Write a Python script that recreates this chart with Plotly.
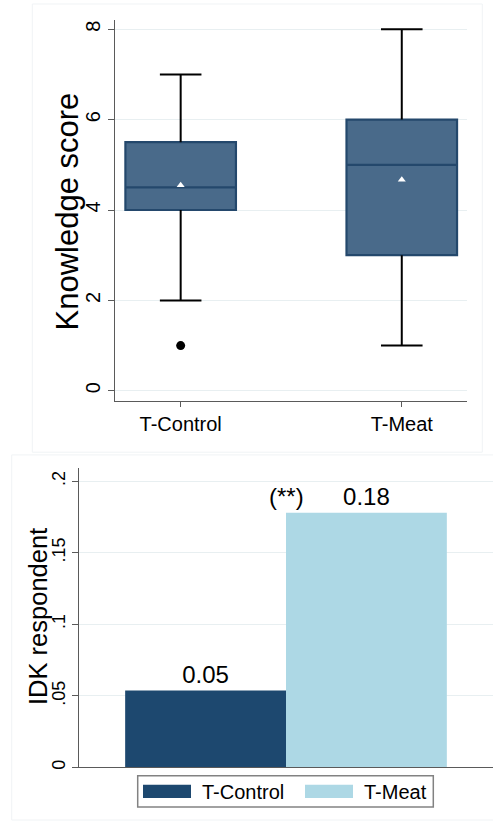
import plotly.graph_objects as go

# ---- data -------------------------------------------------------------
groups = ["T-Control", "T-Meat"]
q1 = [4.0, 3.0]
medians = [4.5, 5.0]
q3 = [5.5, 6.0]
lower_adj = [2.0, 1.0]
upper_adj = [7.0, 8.0]
means = [4.55, 4.67]
outliers = [[1.0], []]

idk_share = [0.0537, 0.178]
sig_label = "(**)"

score_ticks = [0, 2, 4, 6, 8]
share_ticks = [0, 0.05, 0.1, 0.15, 0.2]
share_ticktext = ["0", ".05", ".1", ".15", ".2"]

# ---- styling ----------------------------------------------------------
W, H = 493, 823
FONT = "Liberation Sans, Arial, sans-serif"
BOX_FILL = "rgb(73,106,138)"
BOX_LINE = "rgb(36,72,108)"
BAR_COLORS = ["rgb(29,72,111)", "rgb(173,216,229)"]
GRID = "rgb(232,239,241)"
AXIS = "rgb(90,90,90)"
FRAME = "rgb(240,243,245)"


def px_x(v):
    return v / W


def px_y(v):
    return 1 - v / H


fig = go.Figure()

# ---- top panel: box plot of knowledge score ---------------------------
pos = list(range(len(groups)))
box_width = 0.5
cap_half = 0.094

for i, g in enumerate(groups):
    fig.add_trace(go.Box(
        x=[pos[i]], q1=[q1[i]], median=[medians[i]], q3=[q3[i]],
        lowerfence=[q1[i]], upperfence=[q3[i]],
        width=box_width, fillcolor=BOX_FILL,
        line=dict(color=BOX_LINE, width=2.2), whiskerwidth=0,
        boxpoints=False, showlegend=False, hoverinfo="skip",
        xaxis="x", yaxis="y",
    ))

# whiskers with caps
wx, wy = [], []
for i in range(len(groups)):
    p = pos[i]
    wx += [p, p, None, p - cap_half, p + cap_half, None,
           p, p, None, p - cap_half, p + cap_half, None]
    wy += [q3[i], upper_adj[i], None, upper_adj[i], upper_adj[i], None,
           q1[i], lower_adj[i], None, lower_adj[i], lower_adj[i], None]
fig.add_trace(go.Scatter(x=wx, y=wy, mode="lines",
                         line=dict(color="black", width=2),
                         showlegend=False, hoverinfo="skip",
                         xaxis="x", yaxis="y"))

# outside values
ox, oy = [], []
for i, vals in enumerate(outliers):
    for v in vals:
        ox.append(pos[i])
        oy.append(v)
fig.add_trace(go.Scatter(x=ox, y=oy, mode="markers",
                         marker=dict(color="black", size=9),
                         showlegend=False, hoverinfo="skip",
                         xaxis="x", yaxis="y"))

# means
fig.add_trace(go.Scatter(x=pos, y=means, mode="markers",
                         marker=dict(symbol="triangle-up", color="white", size=7,
                                     line=dict(width=0)),
                         showlegend=False, hoverinfo="skip",
                         xaxis="x", yaxis="y"))

# ---- bottom panel: share of IDK respondents ---------------------------
for i, g in enumerate(groups):
    fig.add_trace(go.Bar(
        x=[0], y=[idk_share[i]], name=g,
        marker=dict(color=BAR_COLORS[i], line=dict(width=0)),
        texttemplate="%{y:.2f}", textposition="outside",
        textfont=dict(size=24, color="black", family=FONT),
        cliponaxis=False, showlegend=False,
        xaxis="x2", yaxis="y2",
    ))

fig.add_annotation(x=0, y=idk_share[1], xref="x2", yref="y2",
                   text=sig_label, showarrow=False, yanchor="bottom",
                   yshift=1, font=dict(size=24, color="black", family=FONT))

# axis titles
fig.add_annotation(x=px_x(67), y=px_y(212), xref="paper", yref="paper",
                   text="Knowledge score", textangle=-90, showarrow=False,
                   xanchor="center", yanchor="middle",
                   font=dict(size=31, color="black", family=FONT))
fig.add_annotation(x=px_x(38), y=px_y(618.5), xref="paper", yref="paper",
                   text="IDK respondent", textangle=-90, showarrow=False,
                   xanchor="center", yanchor="middle",
                   font=dict(size=25.5, color="black", family=FONT))

# legend drawn as swatches + labels
legend_box = dict(x0=137.7, x1=433.3, y0=777.7, y1=809)
swatch_x = [143, 305]
label_x = [200, 361.7]
shapes = [dict(type="rect", xref="paper", yref="paper",
               x0=px_x(legend_box["x0"]), x1=px_x(legend_box["x1"]),
               y0=px_y(legend_box["y1"]), y1=px_y(legend_box["y0"]),
               line=dict(color="rgb(130,130,130)", width=1.5),
               fillcolor="white")]
for i, g in enumerate(groups):
    shapes.append(dict(type="rect", xref="paper", yref="paper",
                       x0=px_x(swatch_x[i]), x1=px_x(swatch_x[i] + 48),
                       y0=px_y(800), y1=px_y(786.7),
                       line=dict(width=0), fillcolor=BAR_COLORS[i]))
    fig.add_annotation(x=px_x(label_x[i]), y=px_y(793.5), xref="paper", yref="paper",
                       text=g, showarrow=False, xanchor="left", yanchor="middle",
                       font=dict(size=20, color="black", family=FONT))

# faint frames around the two graph regions
shapes.append(dict(type="rect", xref="paper", yref="paper",
                   x0=px_x(32.3), x1=px_x(482.3), y0=px_y(453.3), y1=px_y(4),
                   line=dict(color=FRAME, width=1), layer="below"))
shapes.append(dict(type="rect", xref="paper", yref="paper",
                   x0=px_x(11.7), x1=px_x(510), y0=px_y(822), y1=px_y(456),
                   line=dict(color=FRAME, width=1), layer="below"))

fig.update_layout(
    width=W, height=H,
    margin=dict(l=0, r=0, t=0, b=0),
    paper_bgcolor="white", plot_bgcolor="white",
    font=dict(family=FONT, color="black"),
    barmode="group", bargap=0.223,
    shapes=shapes,
    xaxis=dict(domain=[px_x(115), px_x(467)], range=[-0.297, 1.295],
               tickvals=pos, ticktext=groups, ticks="outside", ticklen=5,
               tickcolor=AXIS, showline=True, linecolor=AXIS, linewidth=1.3,
               showgrid=False, zeroline=False, tickfont=dict(size=20),
               anchor="y"),
    yaxis=dict(domain=[px_y(401.7), px_y(20)], range=[-0.22, 8.205],
               tickvals=score_ticks, tickangle=-90, ticks="outside", ticklen=6,
               tickcolor=AXIS, showline=True, linecolor=AXIS, linewidth=1.3,
               showgrid=True, gridcolor=GRID, gridwidth=1, zeroline=False,
               tickfont=dict(size=20), anchor="x"),
    xaxis2=dict(domain=[px_x(79), 1.0], range=[-0.5, 0.5],
                showticklabels=False, ticks="", showline=True, linecolor=AXIS,
                linewidth=1.3, showgrid=False, zeroline=False, anchor="y2"),
    yaxis2=dict(domain=[px_y(769.3), px_y(469)], range=[0, 0.2093],
                tickvals=share_ticks, ticktext=share_ticktext, tickangle=-90,
                ticks="outside", ticklen=6, tickcolor=AXIS, showline=True,
                linecolor=AXIS, linewidth=1.3, showgrid=True, gridcolor=GRID,
                zeroline=False, tickfont=dict(size=18), anchor="x2"),
)

fig.write_html("out.html")
